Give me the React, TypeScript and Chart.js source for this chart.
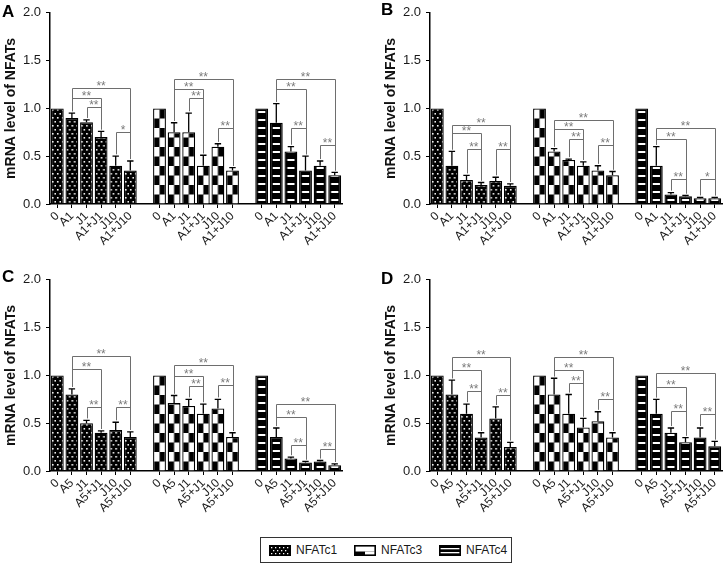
import React, { useEffect, useRef } from 'react';
import { Chart, registerables } from 'chart.js';

Chart.register(...registerables);

const FONT = "'Liberation Sans', Arial, Helvetica, sans-serif";

// ---------- data ----------
const seriesNames = ['NFATc1', 'NFATc3', 'NFATc4'];
const catsA1 = ['0', 'A1', 'J1', 'A1+J1', 'J10', 'A1+J10'];
const catsA5 = ['0', 'A5', 'J1', 'A5+J1', 'J10', 'A5+J10'];
const yTickValues = [0, 0.5, 1.0, 1.5, 2.0];
const yTitle = 'mRNA level of NFATs';

type Bracket = [number, number, number, string]; // from bar, to bar, level, label

// Panel A
const aC1 = [1.0, 0.9, 0.855, 0.7, 0.4, 0.35];
const aC1Err = [0, 0.05, 0.025, 0.06, 0.1, 0.1];
const aC3 = [1.0, 0.75, 0.75, 0.4, 0.6, 0.35];
const aC3Err = [0, 0.1, 0.2, 0.11, 0.03, 0.03];
const aC4 = [1.0, 0.85, 0.55, 0.35, 0.4, 0.3];
const aC4Err = [0, 0.2, 0.05, 0.15, 0.05, 0.03];
const aBr1: Bracket[] = [[1, 5, 1.21, '**'], [1, 3, 1.11, '**'], [2, 3, 1.01, '**'], [4, 5, 0.75, '*']];
const aBr3: Bracket[] = [[1, 5, 1.31, '**'], [1, 3, 1.2, '**'], [2, 3, 1.11, '**'], [4, 5, 0.8, '**']];
const aBr4: Bracket[] = [[1, 5, 1.31, '**'], [1, 3, 1.2, '**'], [2, 3, 0.8, '**'], [4, 5, 0.62, '**']];

// Panel B
const bC1 = [1.0, 0.4, 0.25, 0.2, 0.24, 0.19];
const bC1Err = [0, 0.15, 0.05, 0.025, 0.04, 0.02];
const bC3 = [1.0, 0.55, 0.46, 0.4, 0.35, 0.3];
const bC3Err = [0, 0.03, 0.01, 0.04, 0.05, 0.04];
const bC4 = [1.0, 0.4, 0.1, 0.08, 0.06, 0.06];
const bC4Err = [0, 0.2, 0.02, 0.01, 0.01, 0.01];
const bBr1: Bracket[] = [[1, 5, 0.83, '**'], [1, 3, 0.74, '**'], [2, 3, 0.58, '**'], [4, 5, 0.58, '**']];
const bBr3: Bracket[] = [[1, 5, 0.875, '**'], [1, 3, 0.78, '**'], [2, 3, 0.685, '**'], [4, 5, 0.615, '**']];
const bBr4: Bracket[] = [[1, 5, 0.8, '**'], [1, 3, 0.68, '**'], [2, 3, 0.26, '**'], [4, 5, 0.26, '*']];

// Panel C
const cC1 = [1.0, 0.8, 0.5, 0.4, 0.43, 0.355];
const cC1Err = [0, 0.06, 0.03, 0.02, 0.08, 0.055];
const cC3 = [1.0, 0.71, 0.68, 0.6, 0.655, 0.355];
const cC3Err = [0, 0.08, 0.07, 0.1, 0.095, 0.045];
const cC4 = [1.0, 0.355, 0.13, 0.09, 0.1, 0.06];
const cC4Err = [0, 0.095, 0.015, 0.01, 0.01, 0.015];
const cBr1: Bracket[] = [[1, 5, 1.2, '**'], [1, 3, 1.07, '**'], [2, 3, 0.67, '**'], [4, 5, 0.67, '**']];
const cBr3: Bracket[] = [[1, 5, 1.11, '**'], [1, 3, 0.99, '**'], [2, 3, 0.89, '**'], [4, 5, 0.9, '**']];
const cBr4: Bracket[] = [[1, 5, 0.7, '**'], [1, 3, 0.57, '**'], [2, 3, 0.27, '**'], [4, 5, 0.23, '**']];

// Panel D
const dC1 = [1.0, 0.8, 0.6, 0.35, 0.55, 0.25];
const dC1Err = [0, 0.15, 0.1, 0.05, 0.12, 0.05];
const dC3 = [1.0, 0.8, 0.6, 0.455, 0.52, 0.35];
const dC3Err = [0, 0.17, 0.2, 0.095, 0.1, 0.05];
const dC4 = [1.0, 0.6, 0.4, 0.3, 0.35, 0.26];
const dC4Err = [0, 0.15, 0.05, 0.05, 0.1, 0.05];
const dBr1: Bracket[] = [[1, 5, 1.19, '**'], [1, 3, 1.06, '**'], [2, 3, 0.84, '**'], [4, 5, 0.79, '**']];
const dBr3: Bracket[] = [[1, 5, 1.19, '**'], [1, 3, 1.06, '**'], [2, 3, 0.92, '**'], [4, 5, 0.75, '**']];
const dBr4: Bracket[] = [[1, 5, 1.03, '**'], [1, 3, 0.88, '**'], [2, 3, 0.63, '**'], [4, 5, 0.6, '**']];

interface PanelDef {
  letter: string;
  cats: string[];
  values: number[][];
  errors: number[][];
  brackets: Bracket[][];
}

const panels: PanelDef[] = [
  { letter: 'A', cats: catsA1, values: [aC1, aC3, aC4], errors: [aC1Err, aC3Err, aC4Err], brackets: [aBr1, aBr3, aBr4] },
  { letter: 'B', cats: catsA1, values: [bC1, bC3, bC4], errors: [bC1Err, bC3Err, bC4Err], brackets: [bBr1, bBr3, bBr4] },
  { letter: 'C', cats: catsA5, values: [cC1, cC3, cC4], errors: [cC1Err, cC3Err, cC4Err], brackets: [cBr1, cBr3, cBr4] },
  { letter: 'D', cats: catsA5, values: [dC1, dC3, dC4], errors: [dC1Err, dC3Err, dC4Err], brackets: [dBr1, dBr3, dBr4] },
];

// ---------- styling helpers ----------
const BAR_PCT = 0.88;
const SLOT = 7; // 6 bars + 1 gap

function makeTile(g: number, w: number): HTMLCanvasElement {
  const c = document.createElement('canvas');
  const ctx = c.getContext('2d')!;
  const ww = isFinite(w) && w > 2 ? w : 12;
  if (g === 0) {
    c.width = 5;
    c.height = 8;
    ctx.fillStyle = '#000';
    ctx.fillRect(0, 0, 5, 8);
    ctx.fillStyle = '#fff';
    ctx.fillRect(1, 1, 1.6, 1.6);
    ctx.fillRect(3.5, 5, 1.6, 1.6);
  } else if (g === 1) {
    const W = Math.ceil(ww);
    const cell = 9.5;
    c.width = W;
    c.height = 19;
    ctx.fillStyle = '#000';
    ctx.fillRect(0, 0, W, 19);
    ctx.fillStyle = '#fff';
    ctx.fillRect(0, 0, ww / 2, cell);
    ctx.fillRect(ww / 2, cell, ww / 2, cell);
  } else {
    const W = Math.ceil(ww);
    c.width = W;
    c.height = 8;
    ctx.fillStyle = '#000';
    ctx.fillRect(0, 0, W, 8);
    ctx.fillStyle = '#fff';
    ctx.fillRect(ww * 0.22, 3, ww * 0.56, 2);
  }
  return c;
}

function patternAt(ctx: CanvasRenderingContext2D, g: number, w: number, left: number, base: number) {
  const pat = ctx.createPattern(makeTile(g, w), 'repeat')!;
  pat.setTransform(new DOMMatrix([1, 0, 0, 1, left, base]));
  return pat;
}

function barBackground(g: number) {
  return (c: any) => {
    const chart = c.chart;
    const xs = chart.scales?.x;
    const ys = chart.scales?.y;
    if (!xs || !ys || c.dataIndex === undefined) return '#000';
    const slot = xs.getPixelForValue(1) - xs.getPixelForValue(0);
    const bw = slot * BAR_PCT;
    const left = xs.getPixelForValue(c.dataIndex) - bw / 2;
    const base = ys.getPixelForValue(0);
    if (!isFinite(bw) || bw <= 2 || !isFinite(left) || !isFinite(base)) return '#000';
    return patternAt(chart.ctx, g, bw, left, base);
  };
}

function overlayPlugin(p: PanelDef) {
  return {
    id: 'overlay' + p.letter,
    afterDatasetsDraw(chart: any) {
      const ctx: CanvasRenderingContext2D = chart.ctx;
      const xs = chart.scales.x;
      const ys = chart.scales.y;
      ctx.save();
      // error bars
      ctx.strokeStyle = '#000';
      ctx.lineWidth = 1.3;
      p.values.forEach((vals, g) =>
        vals.forEach((v, i) => {
          const e = p.errors[g][i];
          if (!e) return;
          const x = xs.getPixelForValue(g * SLOT + i);
          const y0 = ys.getPixelForValue(v);
          const y1 = ys.getPixelForValue(v + e);
          ctx.beginPath();
          ctx.moveTo(x, y0);
          ctx.lineTo(x, y1);
          ctx.moveTo(x - 3.2, y1);
          ctx.lineTo(x + 3.2, y1);
          ctx.stroke();
        })
      );
      // significance brackets
      ctx.strokeStyle = '#6e6e6e';
      ctx.fillStyle = '#7a7a7a';
      ctx.lineWidth = 1;
      ctx.font = `12px ${FONT}`;
      ctx.textAlign = 'center';
      ctx.textBaseline = 'alphabetic';
      p.brackets.forEach((list, g) =>
        list.forEach(([a, b, lvl, txt]) => {
          const xa = xs.getPixelForValue(g * SLOT + a);
          const xb = xs.getPixelForValue(g * SLOT + b);
          const ya = ys.getPixelForValue(p.values[g][a] + p.errors[g][a] + 0.02);
          const yb = ys.getPixelForValue(p.values[g][b] + p.errors[g][b] + 0.02);
          const yl = Math.round(ys.getPixelForValue(lvl)) + 0.5;
          ctx.beginPath();
          ctx.moveTo(Math.round(xa) + 0.5, ya);
          ctx.lineTo(Math.round(xa) + 0.5, yl);
          ctx.lineTo(Math.round(xb) + 0.5, yl);
          ctx.lineTo(Math.round(xb) + 0.5, yb);
          ctx.stroke();
          ctx.fillText(txt, (xa + xb) / 2, yl + 1.5);
        })
      );
      ctx.restore();
    },
  };
}

function buildConfig(p: PanelDef, padRight: number): any {
  const labels = [...p.cats, '', ...p.cats, '', ...p.cats];
  const datasets = p.values.map((vals, g) => {
    const data: (number | null)[] = labels.map(() => null);
    vals.forEach((v, i) => {
      data[g * SLOT + i] = v;
    });
    return {
      label: seriesNames[g],
      data,
      backgroundColor: barBackground(g),
      borderColor: '#000',
      borderWidth: 1.3,
      barPercentage: BAR_PCT,
      categoryPercentage: 1,
      grouped: false,
    };
  });
  return {
    type: 'bar',
    data: { labels, datasets },
    options: {
      animation: false,
      responsive: false,
      devicePixelRatio: 1,
      events: [],
      layout: { padding: { left: 0, right: padRight, top: 11, bottom: 0 } },
      plugins: { legend: { display: false }, tooltip: { enabled: false } },
      scales: {
        x: {
          type: 'category',
          offset: true,
          grid: {
            display: true,
            offset: false,
            drawOnChartArea: false,
            drawTicks: true,
            tickLength: 4,
            lineWidth: 1,
            color: (c: any) => (labels[c.index] ? '#000' : 'rgba(0,0,0,0)'),
          },
          border: { display: true, color: '#000', width: 1.5 },
          ticks: {
            autoSkip: false,
            maxRotation: 45,
            minRotation: 45,
            color: '#1a1a1a',
            font: { family: FONT, size: 12 },
            padding: 1,
          },
          afterFit: (s: any) => {
            s.height = 47;
            s.paddingLeft = 0;
            s.paddingRight = 0;
          },
        },
        y: {
          min: 0,
          max: 2,
          afterBuildTicks: (s: any) => {
            s.ticks = yTickValues.map((v) => ({ value: v }));
          },
          ticks: {
            callback: (v: any) => Number(v).toFixed(1),
            color: '#1a1a1a',
            font: { family: FONT, size: 13 },
            padding: 5,
          },
          grid: { drawOnChartArea: false, drawTicks: true, tickLength: 4, color: '#000', lineWidth: 1 },
          border: { display: true, color: '#000', width: 1.5 },
          title: {
            display: true,
            text: yTitle,
            color: '#111',
            font: { family: FONT, size: 14, weight: 'bold' },
            padding: { top: 3, bottom: 0 },
          },
          afterFit: (s: any) => {
            s.width = 50;
          },
        },
      },
    },
    plugins: [overlayPlugin(p)],
  };
}

function Panel({ def, left, top, width, height, padRight }: { def: PanelDef; left: number; top: number; width: number; height: number; padRight: number }) {
  const ref = useRef<HTMLCanvasElement>(null);
  useEffect(() => {
    const chart = new Chart(ref.current!, buildConfig(def, padRight));
    return () => chart.destroy();
  }, []);
  return (
    <canvas
      ref={ref}
      width={width}
      height={height}
      style={{ position: 'absolute', left, top, width, height, display: 'block' }}
    />
  );
}

function Swatch({ g }: { g: number }) {
  const ref = useRef<HTMLCanvasElement>(null);
  useEffect(() => {
    const cv = ref.current!;
    const ctx = cv.getContext('2d')!;
    ctx.clearRect(0, 0, 22, 11);
    ctx.fillStyle = '#000';
    ctx.fillRect(0, 0, 22, 11);
    ctx.fillStyle = '#fff';
    if (g === 0) {
      for (let y = 2; y < 10; y += 3) {
        for (let x = (y % 2 === 0 ? 2 : 4); x < 20; x += 4) ctx.fillRect(x, y, 1.3, 1.3);
      }
    } else if (g === 1) {
      ctx.fillRect(1.5, 1.5, 19, 5);
      ctx.fillRect(11, 6.5, 9.5, 3);
    } else {
      ctx.fillRect(1.5, 3, 19, 1.3);
      ctx.fillRect(1.5, 7, 19, 1.3);
    }
    ctx.strokeStyle = '#000';
    ctx.lineWidth = 1.2;
    ctx.strokeRect(0.6, 0.6, 20.8, 9.8);
  }, []);
  return <canvas ref={ref} width={22} height={11} style={{ position: 'absolute', top: 7, left: 0, display: 'block' }} />;
}

const layout = [
  { left: 0, top: 0, width: 361, height: 251, padRight: 19, letterLeft: 2, letterTop: 3 },
  { left: 380, top: 0, width: 343, height: 251, padRight: 1, letterLeft: 381, letterTop: 1 },
  { left: 0, top: 267, width: 361, height: 251, padRight: 19, letterLeft: 2, letterTop: 268 },
  { left: 380, top: 267, width: 343, height: 251, padRight: 1, letterLeft: 381, letterTop: 270 },
];

export default function App() {
  return (
    <div
      style={{
        position: 'fixed',
        left: 0,
        top: 0,
        width: 723,
        height: 564,
        background: '#fff',
        overflow: 'hidden',
        fontFamily: FONT,
      }}
    >
      {panels.map((p, k) => (
        <Panel key={p.letter} def={p} left={layout[k].left} top={layout[k].top} width={layout[k].width} height={layout[k].height} padRight={layout[k].padRight} />
      ))}
      {panels.map((p, k) => (
        <div
          key={'L' + p.letter}
          style={{
            position: 'absolute',
            left: layout[k].letterLeft,
            top: layout[k].letterTop,
            fontSize: 17,
            fontWeight: 'bold',
            lineHeight: '17px',
            color: '#000',
          }}
        >
          {p.letter}
        </div>
      ))}
      <div
        style={{
          position: 'absolute',
          left: 260,
          top: 537,
          width: 250,
          height: 24,
          border: '1px solid #333',
        }}
      >
        {seriesNames.map((n, g) => (
          <div key={n} style={{ position: 'absolute', left: 8 + g * 85, top: 0, height: 24, width: 80 }}>
            <Swatch g={g} />
            <span
              style={{
                position: 'absolute',
                left: 27,
                top: 5,
                fontSize: 12,
                lineHeight: '14px',
                color: '#1a1a1a',
                whiteSpace: 'nowrap',
              }}
            >
              {n}
            </span>
          </div>
        ))}
      </div>
    </div>
  );
}
